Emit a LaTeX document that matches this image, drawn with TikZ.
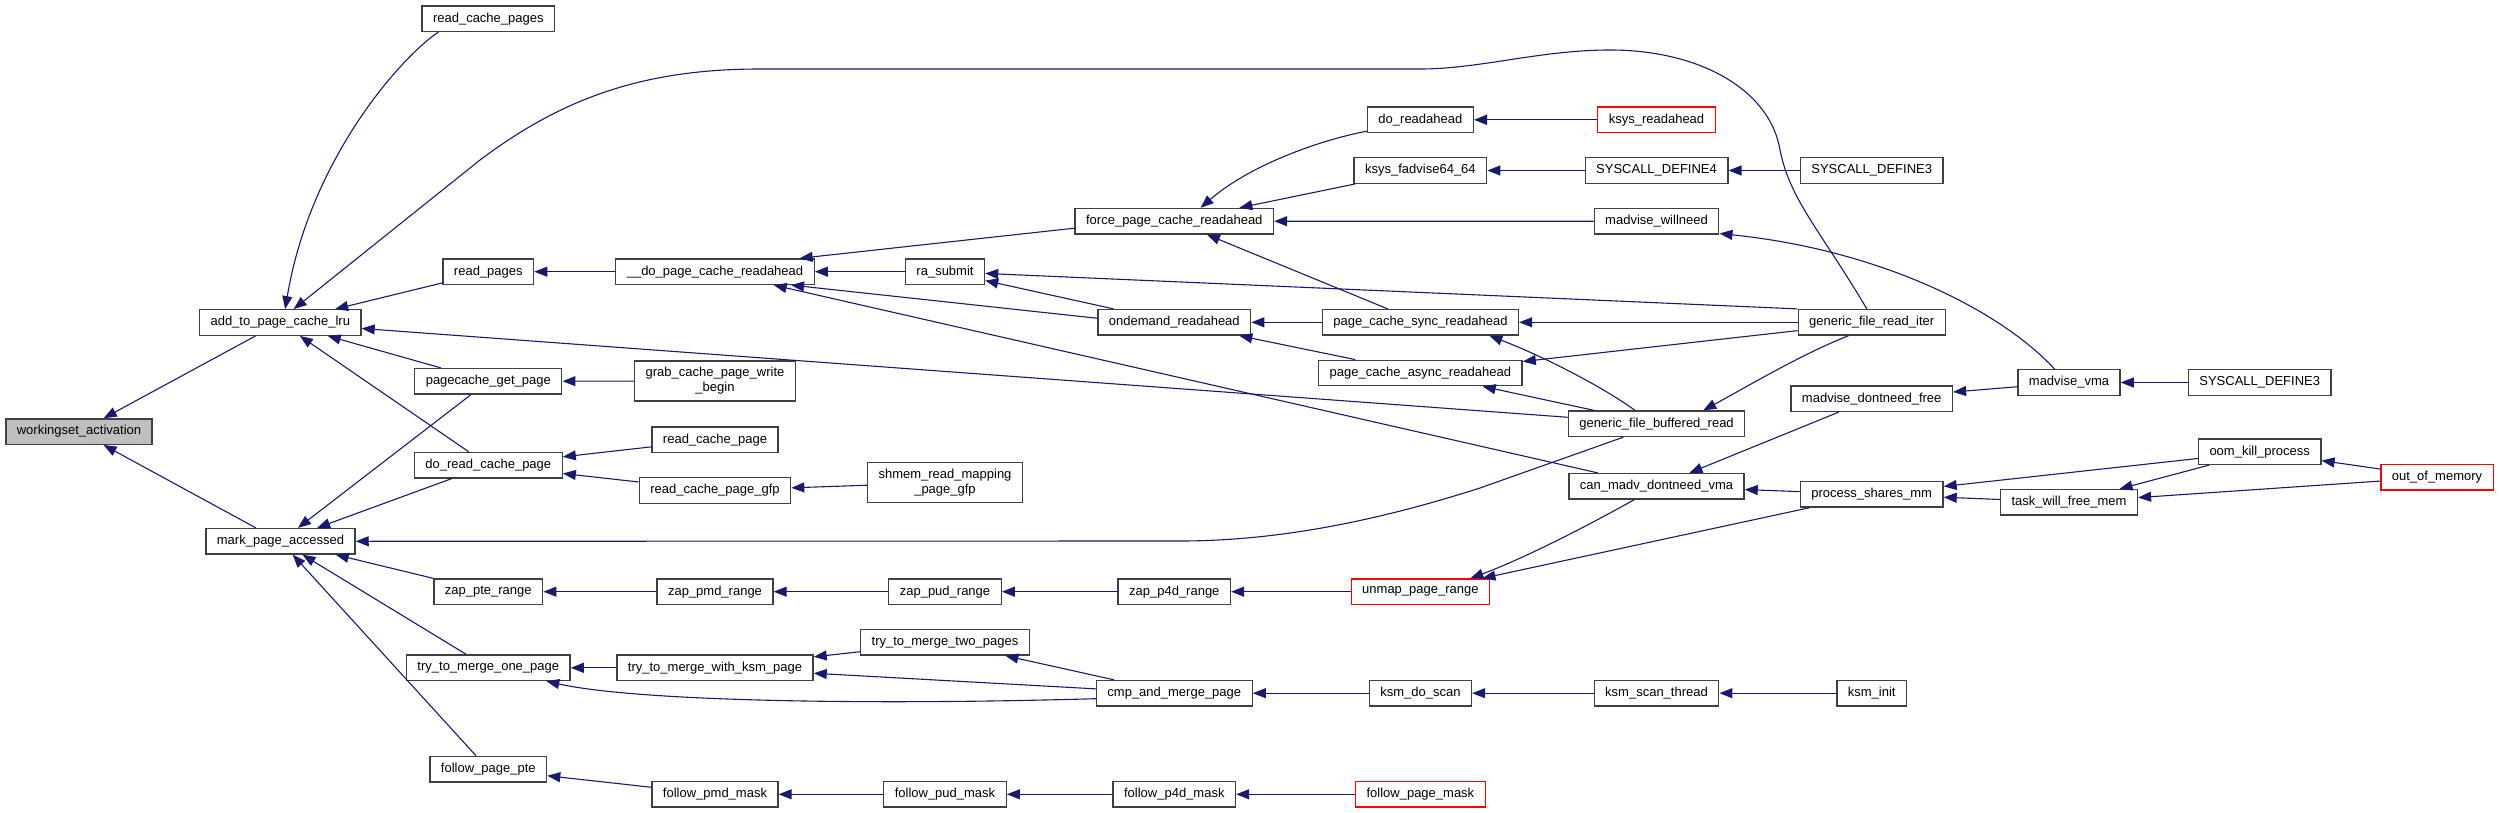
\documentclass[tikz,border=0pt]{standalone}
\usepackage{fontspec}
\setmainfont{Liberation Sans}
\usetikzlibrary{arrows.meta}
\definecolor{edgeblue}{HTML}{191970}
\definecolor{boxgray}{HTML}{404040}
\definecolor{curgray}{HTML}{BFBFBF}

\begin{document}
\begin{tikzpicture}[x=0.5pt,y=-0.5pt,
    fn/.style={draw=boxgray, line width=0.65pt, fill=white, inner xsep=5.5pt, inner ysep=0pt,
      minimum height=12.75pt, font=\fontsize{6.5}{7.5}\selectfont, align=center},
    fntwo/.style={fn, minimum height=20pt},
    fnred/.style={fn, draw=red},
    fncur/.style={fn, fill=curgray},
    call/.style={draw=edgeblue, line width=0.55pt, -{Triangle[length=6.5pt,width=5pt]}}]
        \useasboundingbox (0,0) rectangle (2499,813);

        \node[fncur] (wsa) at (79,431.6) {workingset\_activation};
        \node[fn] (atpcl) at (280.3,322.5) {add\_to\_page\_cache\_lru};
        \node[fn] (mpa) at (280.5,541.3) {mark\_page\_accessed};
        \node[fn] (rcps) at (488.3,18.7) {read\_cache\_pages};
        \node[fn] (rp) at (488.3,271.7) {read\_pages};
        \node[fn] (pgp) at (488.3,381.3) {pagecache\_get\_page};
        \node[fn] (drcp) at (488.3,465.2) {do\_read\_cache\_page};
        \node[fn] (zpte) at (488.3,591.7) {zap\_pte\_range};
        \node[fn] (ttmop) at (488.3,667.8) {try\_to\_merge\_one\_page};
        \node[fn] (fpp) at (488.3,769.2) {follow\_page\_pte};
        \node[fn] (dpcr) at (715,271.7) {\_\_do\_page\_cache\_readahead};
        \node[fntwo] (gcpwb) at (715,381) {grab\_cache\_page\_write\\\_begin};
        \node[fn] (rcp) at (715,439.7) {read\_cache\_page};
        \node[fn] (rcpg) at (715,490.5) {read\_cache\_page\_gfp};
        \node[fn] (zpmd) at (715,591.7) {zap\_pmd\_range};
        \node[fn] (ttmwk) at (715,667.8) {try\_to\_merge\_with\_ksm\_page};
        \node[fn] (fpmd) at (715,794.3) {follow\_pmd\_mask};
        \node[fn] (ras) at (945,271.7) {ra\_submit};
        \node[fntwo] (smpg) at (945,482.5) {shmem\_read\_mapping\\\_page\_gfp};
        \node[fn] (zpud) at (945,591.7) {zap\_pud\_range};
        \node[fn] (ttmtp) at (945,642.3) {try\_to\_merge\_two\_pages};
        \node[fn] (fpud) at (945,794.3) {follow\_pud\_mask};
        \node[fn] (fpcr) at (1174.3,221.2) {force\_page\_cache\_readahead};
        \node[fn] (odr) at (1174.3,322.3) {ondemand\_readahead};
        \node[fn] (zp4d) at (1174.3,591.7) {zap\_p4d\_range};
        \node[fn] (camp) at (1174.3,693.2) {cmp\_and\_merge\_page};
        \node[fn] (fp4d) at (1174.3,794.3) {follow\_p4d\_mask};
        \node[fn] (dra) at (1420.4,119.8) {do\_readahead};
        \node[fn] (kfa) at (1420.4,170.5) {ksys\_fadvise64\_64};
        \node[fn] (pcsr) at (1420.4,322.3) {page\_cache\_sync\_readahead};
        \node[fn] (pcar) at (1420.4,373) {page\_cache\_async\_readahead};
        \node[fnred] (upr) at (1420.4,591.7) {unmap\_page\_range};
        \node[fn] (kds) at (1420.4,693.2) {ksm\_do\_scan};
        \node[fnred] (fpm) at (1420.4,794.3) {follow\_page\_mask};
        \node[fnred] (kra) at (1656.5,119.8) {ksys\_readahead};
        \node[fn] (sd4) at (1656.5,170.5) {SYSCALL\_DEFINE4};
        \node[fn] (mwn) at (1656.5,221.3) {madvise\_willneed};
        \node[fn] (gfbr) at (1656.5,423.8) {generic\_file\_buffered\_read};
        \node[fn] (cmdv) at (1656.5,486.3) {can\_madv\_dontneed\_vma};
        \node[fn] (kst) at (1656.5,693.2) {ksm\_scan\_thread};
        \node[fn] (sd3a) at (1871.7,170.5) {SYSCALL\_DEFINE3};
        \node[fn] (gfri) at (1871.7,322.3) {generic\_file\_read\_iter};
        \node[fn] (mdf) at (1871.7,398.7) {madvise\_dontneed\_free};
        \node[fn] (psm) at (1871.7,494.3) {process\_shares\_mm};
        \node[fn] (kinit) at (1871.7,693.2) {ksm\_init};
        \node[fn] (mvma) at (2069,382.5) {madvise\_vma};
        \node[fn] (twfm) at (2069,502.3) {task\_will\_free\_mem};
        \node[fn] (sd3b) at (2259.7,382.5) {SYSCALL\_DEFINE3};
        \node[fn] (okp) at (2259.7,451.7) {oom\_kill\_process};
        \node[fnred] (oom) at (2437,477.2) {out\_of\_memory};

        \draw[call] (atpcl) -- (wsa);
        \draw[call] (mpa) -- (wsa);

        \draw[call] (rcps.195) .. controls (400,58) and (310,160) .. (atpcl.70);
        \draw[call] (gfri.110) .. controls (1820,230) and (1790,200) .. (1780,150)
            .. controls (1770,90) and (1700,50) .. (1610,50)
            .. controls (1540,50) and (1480,69) .. (1420,69) -- (760,69)
            .. controls (640,69) and (560,100) .. (480,160) -- (atpcl.45);
        \draw[call] (rp) -- (atpcl);
        \draw[call] (gfbr) -- (atpcl);
        \draw[call] (pgp) -- (atpcl);
        \draw[call] (drcp) -- (atpcl);

        \draw[call] (pgp) -- (mpa);
        \draw[call] (drcp) -- (mpa);
        \draw[call] (gfbr.202) -- (1480,488) .. controls (1380,520) and (1280,541) .. (1180,541) -- (mpa.east);
        \draw[call] (zpte) -- (mpa);
        \draw[call] (ttmop) -- (mpa);
        \draw[call] (fpp) -- (mpa);

        \draw[call] (dpcr) -- (rp);
        \draw[call] (gcpwb) -- (pgp);
        \draw[call] (rcp) -- (drcp);
        \draw[call] (rcpg) -- (drcp);
        \draw[call] (smpg) -- (rcpg);
        \draw[call] (zpmd) -- (zpte);
        \draw[call] (zpud) -- (zpmd);
        \draw[call] (zp4d) -- (zpud);
        \draw[call] (upr) -- (zp4d);
        \draw[call] (ttmwk) -- (ttmop);
        \draw[call] (camp.184) .. controls (880,705) and (640,702) .. (ttmop.347);
        \draw[call] (ttmtp) -- (ttmwk);
        \draw[call] (camp) -- (ttmwk);
        \draw[call] (camp) -- (ttmtp);
        \draw[call] (kds) -- (camp);
        \draw[call] (kst) -- (kds);
        \draw[call] (kinit) -- (kst);
        \draw[call] (fpmd) -- (fpp);
        \draw[call] (fpud) -- (fpmd);
        \draw[call] (fp4d) -- (fpud);
        \draw[call] (fpm) -- (fp4d);

        \draw[call] (fpcr.184) -- (dpcr.9);
        \draw[call] (ras) -- (dpcr);
        \draw[call] (odr.177) -- (dpcr.350);
        \draw[call] (cmdv) -- (dpcr);
        \draw[call] (odr) -- (ras);
        \draw[call] (gfri.north west) -- (ras);

        \draw[call] (dra.192) .. controls (1320,140) and (1250,165) .. (fpcr.27);
        \draw[call] (kfa) -- (fpcr);
        \draw[call] (mwn) -- (fpcr);
        \draw[call] (pcsr) -- (fpcr);
        \draw[call] (pcsr) -- (odr);
        \draw[call] (pcar) -- (odr);
        \draw[call] (kra) -- (dra);
        \draw[call] (sd4) -- (kfa);
        \draw[call] (sd3a) -- (sd4);

        \draw[call] (gfri) -- (pcsr);
        \draw[call] (gfri) -- (pcar);
        \draw[call] (gfbr.148) .. controls (1600,385) and (1540,355) .. (pcsr.349);
        \draw[call] (gfbr) -- (pcar);
        \draw[call] (gfri.210) .. controls (1800,355) and (1750,385) .. (gfbr.16);

        \draw[call] (mvma.137) .. controls (2000,310) and (1880,250) .. (mwn.349);
        \draw[call] (mvma) -- (mdf);
        \draw[call] (mdf) -- (cmdv);
        \draw[call] (sd3b) -- (mvma);
        \draw[call] (psm) -- (cmdv);
        \draw[call] (psm) -- (upr);
        \draw[call] (cmdv.211) .. controls (1580,530) and (1520,560) .. (upr.15);
        \draw[call] (okp) -- (psm);
        \draw[call] (twfm) -- (psm);
        \draw[call] (okp) -- (twfm);
        \draw[call] (oom) -- (okp);
        \draw[call] (oom) -- (twfm);
\end{tikzpicture}
\end{document}
